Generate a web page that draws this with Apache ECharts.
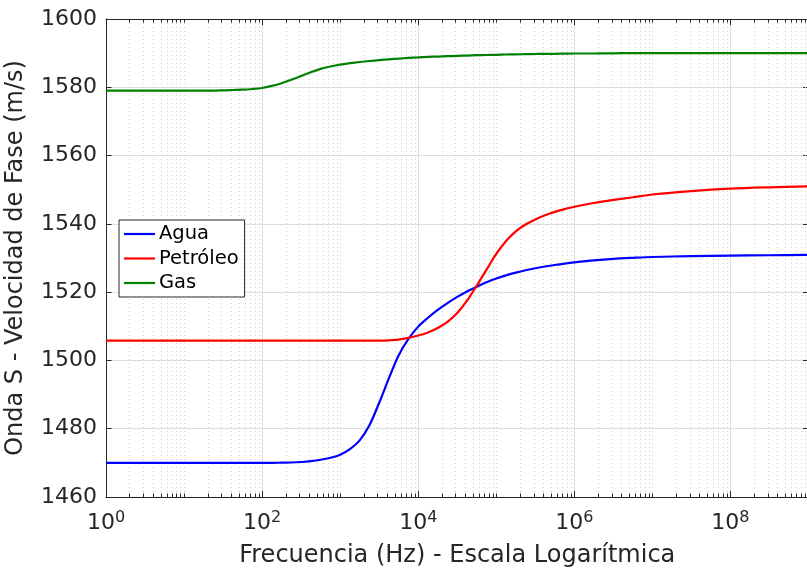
<!DOCTYPE html>
<html>
<head>
<meta charset="utf-8">
<script src="https://cdn.jsdelivr.net/npm/echarts@6/dist/echarts.min.js"></script>
<style>
  html, body { margin: 0; padding: 0; background: #ffffff; }
  #chart { width: 807px; height: 571px; }
</style>
</head>
<body>
<div id="chart"></div>
<script>
// Frecuencias (Hz) donde se muestrean las curvas de velocidad de fase
const frecuencias = [
  1, 3.162, 10, 17.78, 31.62, 42.17, 56.23, 74.99,
  100, 133.4, 177.8, 237.1, 316.2, 421.7, 562.3, 749.9,
  1000, 1334, 1778, 2371, 3162, 4217, 5623, 7499,
  1e4, 13335, 17783, 23714, 31623, 42170, 56234, 74989,
  1e5, 133352, 177828, 237137, 316228, 421697, 562341, 749894,
  1e6, 1778279, 3162278, 5623413, 1e7, 31622777, 1e8, 316227766, 1e9
];

// Velocidad de fase de la onda S (m/s) para cada fluido
const agua = [
  1470, 1470, 1470, 1470, 1470, 1470, 1470, 1470,
  1470, 1470, 1470.05, 1470.1, 1470.25, 1470.5, 1470.9, 1471.5,
  1472.4, 1474.0, 1476.6, 1481.0, 1487.6, 1494.8, 1501.5, 1506.3,
  1509.9, 1512.5, 1514.8, 1516.8, 1518.6, 1520.2, 1521.6, 1522.9,
  1524.0, 1524.9, 1525.7, 1526.4, 1527.0, 1527.5, 1527.95, 1528.35,
  1528.7, 1529.3, 1529.75, 1530.05, 1530.3, 1530.55, 1530.7, 1530.8, 1530.9
];
const petroleo = [
  1505.8, 1505.8, 1505.8, 1505.8, 1505.8, 1505.8, 1505.8, 1505.8,
  1505.8, 1505.8, 1505.8, 1505.8, 1505.8, 1505.8, 1505.8, 1505.8,
  1505.8, 1505.8, 1505.8, 1505.8, 1505.8, 1505.9, 1506.1, 1506.6,
  1507.3, 1508.2, 1509.5, 1511.3, 1513.9, 1517.5, 1521.9, 1526.6,
  1531.2, 1535.0, 1537.8, 1539.8, 1541.3, 1542.5, 1543.5, 1544.3,
  1545.0, 1546.1, 1547.0, 1547.8, 1548.6, 1549.6, 1550.3, 1550.7, 1551.0
];
const gas = [
  1579, 1579, 1579, 1579, 1579.1, 1579.2, 1579.3, 1579.5,
  1579.8, 1580.4, 1581.2, 1582.2, 1583.3, 1584.4, 1585.4, 1586.1,
  1586.65, 1587.05, 1587.4, 1587.7, 1587.95, 1588.2, 1588.4, 1588.6,
  1588.75, 1588.9, 1589.0, 1589.1, 1589.2, 1589.3, 1589.4, 1589.45,
  1589.5, 1589.6, 1589.65, 1589.7, 1589.75, 1589.8, 1589.8, 1589.85,
  1589.9, 1589.9, 1589.95, 1590, 1590, 1590, 1590, 1590, 1590
];

const nombresSeries = ['Agua', 'Petróleo', 'Gas'];
const coloresSeries = ['#0000ff', '#ff0000', '#008000'];

// Marcas menores del eje logarítmico: m·10^k (m = 2..9) y las décadas impares
const marcasMenores = [];
for (let k = 0; k < 9; k++) {
  const base = Math.pow(10, k);
  if (k % 2 === 1) marcasMenores.push(base);
  for (let m = 2; m <= 9; m++) marcasMenores.push(m * base);
}

const FONT = 'DejaVu Sans';
const INK = '#262626';
const GRID_MAJOR = '#dedede';
const GRID_MINOR = '#cfcfcf';

const chart = echarts.init(document.getElementById('chart'), null, { renderer: 'canvas' });

function pares(valores) {
  return frecuencias.map((f, i) => [f, valores[i]]);
}

const ejeX = {
  type: 'log',
  logBase: 100,
  min: 1,
  max: 1e9,
  interval: 1,
  gridIndex: 0
};

function serieLinea(i, valores) {
  return {
    name: nombresSeries[i], type: 'line', xAxisIndex: 0, yAxisIndex: 0,
    data: pares(valores), showSymbol: false, symbol: 'none', smooth: 0.3,
    lineStyle: { color: coloresSeries[i], width: 2.2 },
    itemStyle: { color: coloresSeries[i] }, z: 3
  };
}

const option = {
  backgroundColor: '#ffffff',
  animation: false,
  grid: {
    left: 106, top: 19, width: 702.5, height: 478,
    containLabel: false, outerBoundsMode: 'none'
  },
  legend: {
    data: nombresSeries,
    orient: 'vertical',
    left: 119,
    top: 220,
    padding: [4, 6, 4, 5],
    itemGap: 4.5,
    itemWidth: 31,
    itemHeight: 2.2,
    icon: 'rect',
    backgroundColor: '#ffffff',
    borderColor: INK,
    borderWidth: 1,
    borderRadius: 0,
    textStyle: { fontFamily: FONT, fontSize: 19.5, lineHeight: 20, color: '#000000', padding: [0, 0, 0, -1] }
  },
  xAxis: [
    Object.assign({}, ejeX, {
      position: 'bottom',
      name: 'Frecuencia (Hz) - Escala Logarítmica',
      nameLocation: 'middle',
      nameGap: 45,
      nameTextStyle: { fontFamily: FONT, fontSize: 24, lineHeight: 28, color: INK },
      axisLine: { show: true, lineStyle: { color: INK, width: 1 } },
      axisTick: { show: true, inside: true, length: 6, lineStyle: { color: INK } },
      axisLabel: {
        margin: 13,
        showMaxLabel: false,
        formatter: function (v) {
          const e = Math.round(Math.log10(v));
          return '{b|10}{s|' + e + '}';
        },
        rich: {
          b: { fontFamily: FONT, fontSize: 22, lineHeight: 26, color: INK },
          s: { fontFamily: FONT, fontSize: 16, lineHeight: 6, verticalAlign: 'top', color: INK }
        }
      },
      splitLine: { show: true, lineStyle: { color: GRID_MAJOR, width: 1 } },
      minorTick: { show: false }
    }),
    Object.assign({}, ejeX, {
      position: 'top',
      axisLine: { show: true, lineStyle: { color: INK, width: 1 } },
      axisTick: { show: true, inside: true, length: 6, lineStyle: { color: INK } },
      axisLabel: { show: false },
      splitLine: { show: false }
    })
  ],
  yAxis: [
    {
      type: 'value',
      position: 'left',
      min: 1460,
      max: 1600,
      interval: 20,
      name: 'Onda S - Velocidad de Fase (m/s)',
      nameLocation: 'middle',
      nameGap: 67,
      nameTextStyle: { fontFamily: FONT, fontSize: 24, lineHeight: 28, color: INK },
      axisLine: { show: true, lineStyle: { color: INK, width: 1 } },
      axisTick: { show: true, inside: true, length: 5.5, lineStyle: { color: INK } },
      axisLabel: {
        margin: 9, fontFamily: FONT, fontSize: 22, color: INK,
        formatter: function (v) { return String(v); }
      },
      splitLine: { show: true, lineStyle: { color: GRID_MAJOR, width: 1 } }
    },
    {
      type: 'value',
      position: 'right',
      min: 1460,
      max: 1600,
      interval: 20,
      axisLine: { show: true, lineStyle: { color: INK, width: 1 } },
      axisTick: { show: true, inside: true, length: 5.5, lineStyle: { color: INK } },
      axisLabel: { show: false },
      splitLine: { show: false }
    }
  ],
  series: [
    {
      // rejilla punteada y marcas menores del eje logarítmico
      type: 'custom',
      silent: true,
      z: 1,
      xAxisIndex: 0,
      yAxisIndex: 0,
      data: marcasMenores.map(f => [f, 1460]),
      encode: { x: 0, y: 1 },
      renderItem: function (params, api) {
        const cs = params.coordSys;
        const x = Math.round(api.coord([api.value(0), 1460])[0]) + 0.5;
        const top = cs.y;
        const bottom = cs.y + cs.height;
        return {
          type: 'group',
          children: [
            { type: 'line', shape: { x1: x, y1: top, x2: x, y2: bottom },
              style: { stroke: GRID_MINOR, lineWidth: 1, lineDash: [1, 3] } },
            { type: 'line', shape: { x1: x, y1: bottom, x2: x, y2: bottom - 3.5 },
              style: { stroke: INK, lineWidth: 1 } },
            { type: 'line', shape: { x1: x, y1: top, x2: x, y2: top + 3.5 },
              style: { stroke: INK, lineWidth: 1 } }
          ]
        };
      }
    },
    serieLinea(0, agua),
    serieLinea(1, petroleo),
    serieLinea(2, gas)
  ]
};

chart.setOption(option);
</script>
</body>
</html>
